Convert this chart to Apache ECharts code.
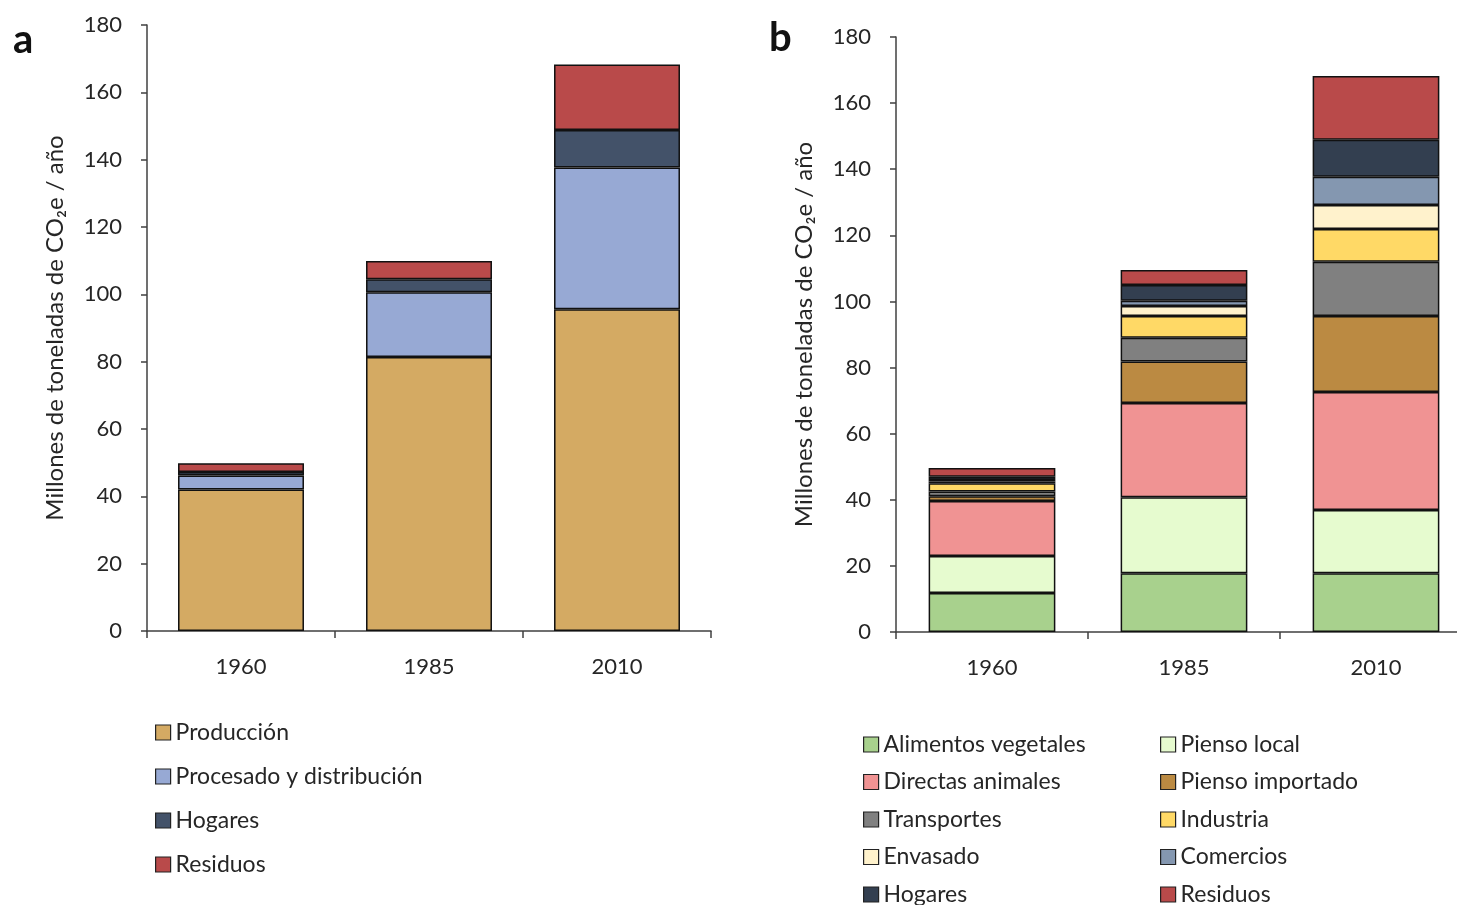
<!DOCTYPE html>
<html><head><meta charset="utf-8">
<script src="https://cdn.jsdelivr.net/npm/echarts@6/dist/echarts.min.js"></script>
<style>html,body{margin:0;padding:0;background:#fff;overflow:hidden;width:1457px;height:905px}#c{width:1480px;height:940px}</style>
</head><body><div id="c"></div>
<script>
const years = ['1960', '1985', '2010'];
const yTicks = [0, 20, 40, 60, 80, 100, 120, 140, 160, 180];
const yName = 'Millones de toneladas de CO₂e / año';

// Panel a
const aNames = ['Producción', 'Procesado y distribución', 'Hogares', 'Residuos'];
const aProduccion = [42.0, 81.4, 95.6];
const aProcesado = [4.2, 19.2, 42.1];
const aHogares = [1.0, 3.9, 11.1];
const aResiduos = [2.6, 5.4, 19.5];
const aColors = ['#d4aa63', '#97a9d4', '#435269', '#b94a4a'];

// Panel b
const bNames = ['Alimentos vegetales', 'Pienso local', 'Directas animales', 'Pienso importado', 'Transportes', 'Industria', 'Envasado', 'Comercios', 'Hogares', 'Residuos'];
const bVegetales = [11.8, 17.8, 17.8];
const bPiensoLocal = [11.2, 23.0, 19.1];
const bDirectas = [16.6, 28.5, 35.7];
const bPiensoImp = [1.5, 12.5, 23.0];
const bTransportes = [1.4, 7.2, 16.4];
const bIndustria = [2.5, 6.6, 9.9];
const bEnvasado = [0.5, 3.0, 7.3];
const bComercios = [0.5, 1.6, 8.5];
const bHogares = [1.0, 4.8, 11.2];
const bResiduos = [2.6, 4.5, 19.3];
const bColors = ['#a8d18d', '#e6fbcf', '#f09393', '#bb8a42', '#808080', '#ffd966', '#fff2cc', '#8497b0', '#333f50', '#b94a4a'];

const aData = [aProduccion, aProcesado, aHogares, aResiduos];
const bData = [bVegetales, bPiensoLocal, bDirectas, bPiensoImp, bTransportes, bIndustria, bEnvasado, bComercios, bHogares, bResiduos];

const txt = '#262626';
const axisCol = '#404040';
const font = 'Lato';

function xAx(gi) {
  return {
    type: 'category', gridIndex: gi, data: years,
    axisLine: {lineStyle: {color: axisCol, width: 1.5}},
    axisTick: {show: true, length: 7, lineStyle: {color: axisCol, width: 1.5}},
    axisLabel: {color: txt, fontSize: 22, fontFamily: font, margin: 25}
  };
}
function yAx(gi) {
  return {
    type: 'value', gridIndex: gi, min: yTicks[0], max: yTicks[yTicks.length - 1], interval: 20,
    splitLine: {show: false},
    axisLine: {show: true, lineStyle: {color: axisCol, width: 1.5}},
    axisTick: {show: true, length: 6, lineStyle: {color: axisCol, width: 1.5}},
    axisLabel: {color: txt, fontSize: 22, fontFamily: font, margin: 25},
    name: yName, nameLocation: 'middle', nameRotate: 90, nameGap: 80,
    nameTextStyle: {color: txt, fontSize: 24, fontFamily: font}
  };
}

const series = [];
aNames.forEach((n, i) => series.push({
  name: n, type: 'bar', stack: 'a', xAxisIndex: 0, yAxisIndex: 0, barWidth: '67%',
  data: aData[i], itemStyle: {color: aColors[i], borderColor: '#111', borderWidth: 1.5}
}));
bNames.forEach((n, i) => series.push({
  name: n, type: 'bar', stack: 'b', xAxisIndex: 1, yAxisIndex: 1, barWidth: '66%',
  data: bData[i], itemStyle: {color: bColors[i], borderColor: '#111', borderWidth: 1.5}
}));

function legItems(names, colors, idx) {
  return idx.map(i => ({name: names[i], icon: 'rect', itemStyle: {color: colors[i], borderColor: '#222', borderWidth: 1.2}}));
}
const legBase = {
  orient: 'vertical', itemWidth: 15, itemHeight: 15, selectedMode: false,
  textStyle: {color: txt, fontSize: 23, fontFamily: font, lineHeight: 23}
};

const chart = echarts.init(document.getElementById('c'), null, {renderer: 'canvas'});
chart.setOption({
  animation: false,
  grid: [
    {left: 147, top: 25, width: 564, height: 606},
    {left: 896, top: 37, width: 576, height: 595}
  ],
  xAxis: [xAx(0), xAx(1)],
  yAxis: [yAx(0), yAx(1)],
  legend: [
    Object.assign({}, legBase, {left: 150, top: 716, itemGap: 21, data: legItems(aNames, aColors, [0, 1, 2, 3])}),
    Object.assign({}, legBase, {left: 858, top: 728, itemGap: 14.5, data: legItems(bNames, bColors, [0, 2, 4, 6, 8])}),
    Object.assign({}, legBase, {left: 1155, top: 728, itemGap: 14.5, data: legItems(bNames, bColors, [1, 3, 5, 7, 9])})
  ],
  graphic: [
    {type: 'text', left: 13, top: 20, style: {text: 'a', fontSize: 40, fontWeight: 'bold', fontFamily: font, fill: '#111'}},
    {type: 'text', left: 769, top: 18, style: {text: 'b', fontSize: 40, fontWeight: 'bold', fontFamily: font, fill: '#111'}}
  ],
  series: series
});
</script></body></html>
